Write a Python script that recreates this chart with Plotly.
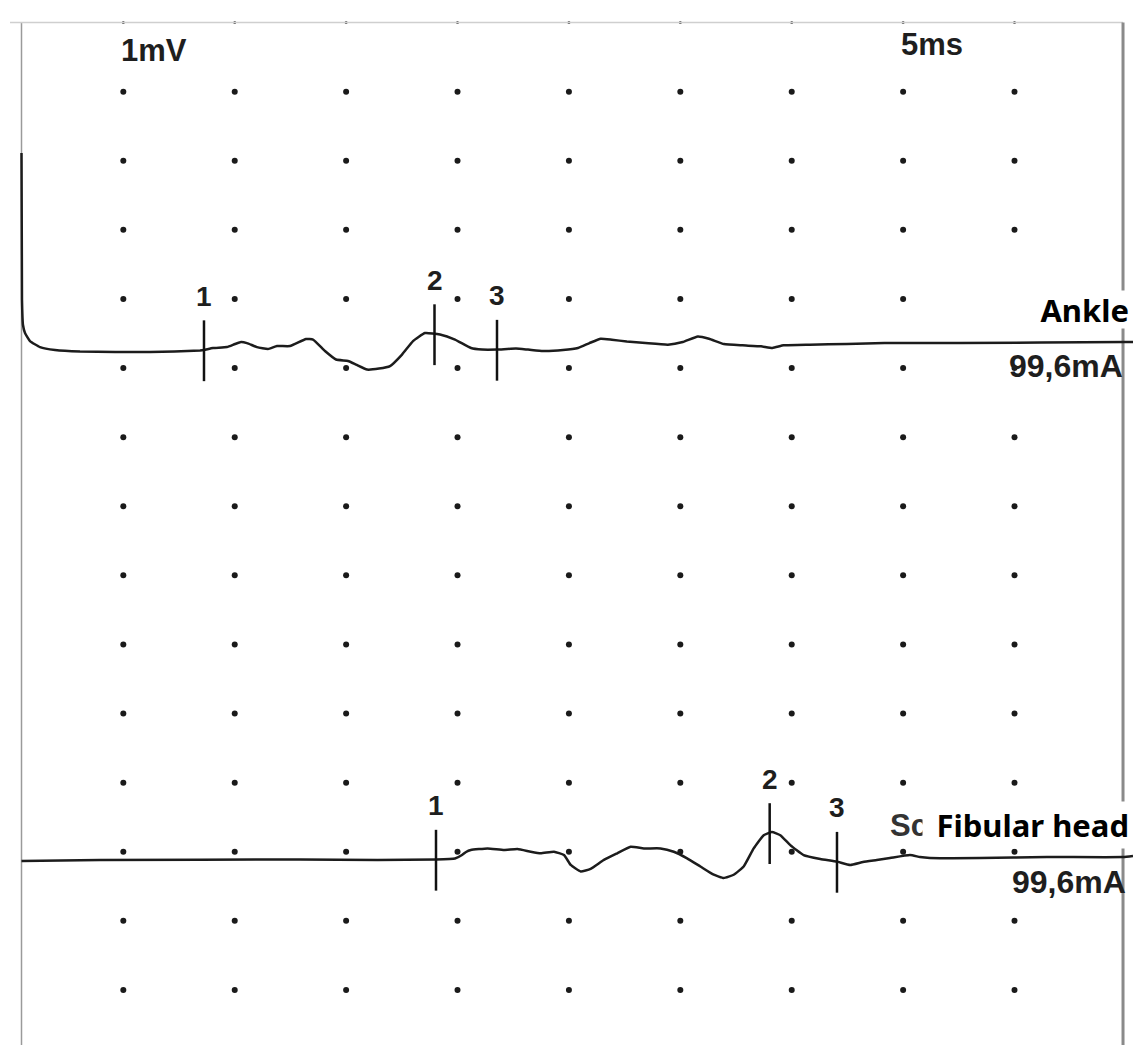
import numpy as np
import plotly.graph_objects as go

# ---- data (time in ms from stimulus, amplitude in mV relative to each trace baseline) ----
ANKLE_T = [0.0, 0.022, 0.067, 0.157, 0.382, 0.83, 1.504, 2.626, 5.767, 8.012, 8.191,
           8.595, 9.223, 9.582, 9.852, 10.121, 10.57, 11.064, 11.468, 12.051, 12.77,
           13.084, 13.622, 14.116, 14.655, 15.014, 15.508, 16.046, 16.54, 17.079,
           17.573, 18.111, 18.784, 19.457, 20.175, 20.669, 21.342, 22.195, 22.733,
           23.406, 24.304, 24.977, 25.493, 25.996, 26.499, 27.168, 28.007, 29.013,
           29.681, 30.355, 30.857, 31.526, 32.361, 33.2, 33.703, 34.206, 35.377,
           37.051, 38.73, 42.078, 49.529, 49.888]
ANKLE_MV = [2.851, 0.724, 0.362, 0.246, 0.13, 0.043, 0.0, -0.022, -0.029, -0.007, 0.0,
            0.029, 0.043, 0.087, 0.116, 0.101, 0.043, 0.014, 0.058, 0.058, 0.159,
            0.152, -0.014, -0.137, -0.159, -0.21, -0.282, -0.268, -0.232, -0.065,
            0.13, 0.246, 0.224, 0.152, 0.029, 0.007, 0.007, 0.022, 0.007,
            -0.014, 0.0, 0.03, 0.101, 0.164, 0.149, 0.124, 0.101, 0.078,
            0.116, 0.197, 0.164, 0.087, 0.068, 0.054, 0.03, 0.068, 0.078,
            0.087, 0.101, 0.101, 0.116, 0.116]

FIB_T = [0.0, 3.523, 12.5, 15.983, 18.604, 19.457, 19.771, 19.951, 20.166, 20.916,
         21.661, 22.258, 22.854, 23.303, 23.9, 24.349, 24.65, 25.099, 25.543, 26.14,
         26.737, 27.338, 27.935, 28.68, 29.277, 29.874, 30.471, 31.072, 31.517,
         31.966, 32.414, 32.863, 33.312, 33.684, 34.057, 34.506, 35.103, 35.853,
         36.602, 37.194, 37.769, 38.388, 38.981, 39.878, 40.327, 40.776, 43.02,
         46.027, 49.438, 49.888]
FIB_MV = [-0.022, -0.007, 0.0, -0.006, 0.0, 0.014, 0.065, 0.109, 0.137, 0.161,
          0.137, 0.152, 0.113, 0.09, 0.113, 0.065, -0.078, -0.172, -0.135, -0.006,
          0.09, 0.184, 0.161, 0.161, 0.113, 0.017, -0.101, -0.22, -0.268,
          -0.22, -0.101, 0.161, 0.352, 0.398, 0.352, 0.208, 0.065, 0.009,
          -0.03, -0.078, -0.036, -0.007, 0.022, 0.065, 0.036, 0.022, 0.022,
          0.036, 0.036, 0.051]

ANKLE_MARKS_T = [8.191, 18.537, 21.342]
FIB_MARKS_T = [18.604, 33.581, 36.602]
MARK_LABELS = ["1", "2", "3"]

GRID_COLS_MS = [4.57, 9.57, 14.57, 19.57, 24.57, 29.57, 34.57, 39.57, 44.57]
GRID_ROWS_MV = [0, 1, 2, 3, 4, 5, 6, 7, 8, 9, 10, 11, 12, 13]

GAIN_LABEL = "1mV"
SWEEP_LABEL = "5ms"
SITE_LABELS = ["Ankle", "Fibular head"]
STIM_LABELS = ["99,6mA", "99,6mA"]

# ---- layout constants ----
ANKLE_BASE = 9.26
FIB_BASE = 1.887
X_RANGE = [-0.965, 49.888]
Y_RANGE = [-0.797, 14.326]
FRAME_TOP = 14
FRAME_RIGHT = 49.44
TICK_UP, TICK_DOWN = 0.43, 0.45
LABEL_UP = 0.78

TRACE_COLOR = "#1c1c1c"
TXT_FONT = "Liberation Sans, Arial, sans-serif"
TXT_COLOR = "#1e1e1e"

fig = go.Figure()

# grid dots
gx, gy = np.meshgrid(GRID_COLS_MS, GRID_ROWS_MV)
fig.add_trace(go.Scatter(x=gx.ravel(), y=gy.ravel(), mode="markers",
                         marker=dict(size=6, color="#1a1a1a"), hoverinfo="skip",
                         showlegend=False))
# small dots on the top frame line
fig.add_trace(go.Scatter(x=GRID_COLS_MS, y=[FRAME_TOP] * len(GRID_COLS_MS), mode="markers",
                         marker=dict(size=3, color="#555"), hoverinfo="skip",
                         showlegend=False))

# frame lines
fig.add_trace(go.Scatter(x=[0, 0], y=[Y_RANGE[0], FRAME_TOP], mode="lines",
                         line=dict(color="#9a9a9a", width=1.5), hoverinfo="skip", showlegend=False))
fig.add_trace(go.Scatter(x=[X_RANGE[0] + 0.45, FRAME_RIGHT], y=[FRAME_TOP, FRAME_TOP], mode="lines",
                         line=dict(color="#cfcfcf", width=1.5), hoverinfo="skip", showlegend=False))
fig.add_trace(go.Scatter(x=[FRAME_RIGHT, FRAME_RIGHT], y=[Y_RANGE[0], FRAME_TOP], mode="lines",
                         line=dict(color="#8a8a8a", width=3), hoverinfo="skip", showlegend=False))

# traces
for t, mv, base in [(ANKLE_T, ANKLE_MV, ANKLE_BASE), (FIB_T, FIB_MV, FIB_BASE)]:
    fig.add_trace(go.Scatter(x=t, y=np.array(mv) + base, mode="lines",
                             line=dict(color=TRACE_COLOR, width=2.5, shape="spline", smoothing=0.4),
                             hoverinfo="skip", showlegend=False))

annotations = []
# cursor marks with labels
for t, mv, base, marks in [(ANKLE_T, ANKLE_MV, ANKLE_BASE, ANKLE_MARKS_T),
                           (FIB_T, FIB_MV, FIB_BASE, FIB_MARKS_T)]:
    for m, lab in zip(marks, MARK_LABELS):
        v = float(np.interp(m, t, mv)) + base
        fig.add_trace(go.Scatter(x=[m, m], y=[v + TICK_UP, v - TICK_DOWN], mode="lines",
                                 line=dict(color="#111", width=2.5), hoverinfo="skip",
                                 showlegend=False))
        annotations.append(dict(x=m, y=v + LABEL_UP, text="<b>" + lab + "</b>", showarrow=False,
                                xanchor="center", yanchor="middle",
                                font=dict(family=TXT_FONT, size=28, color=TXT_COLOR)))

annotations += [
    dict(x=5.95, y=13.60, text="<b>" + GAIN_LABEL + "</b>", showarrow=False,
         xanchor="center", yanchor="middle",
         font=dict(family=TXT_FONT, size=31, color=TXT_COLOR)),
    dict(x=40.87, y=13.675, text="<b>" + SWEEP_LABEL + "</b>", showarrow=False,
         xanchor="center", yanchor="middle",
         font=dict(family=TXT_FONT, size=31, color=TXT_COLOR)),
    dict(x=44.25, y=9.029, text="<b>" + STIM_LABELS[0] + "</b>", showarrow=False,
         xanchor="left", yanchor="middle",
         font=dict(family=TXT_FONT, size=32, color=TXT_COLOR)),
    dict(x=44.35, y=1.562, text="<b>" + STIM_LABELS[1] + "</b>", showarrow=False,
         xanchor="left", yanchor="middle",
         font=dict(family=TXT_FONT, size=32, color=TXT_COLOR)),
    dict(x=38.9, y=2.386, text="<b>Sc</b>", showarrow=False, xanchor="left", yanchor="middle",
         font=dict(family=TXT_FONT, size=31, color="#333")),
    dict(x=0.997, xref="paper", y=9.85, text="<b>" + SITE_LABELS[0] + "</b>", showarrow=False,
         xanchor="right", yanchor="middle", align="right", width=160, height=37,
         bgcolor="white", borderpad=0,
         font=dict(family="Noto Sans, Open Sans, sans-serif", size=31, color="black")),
    dict(x=0.997, xref="paper", y=2.386, text="<b>" + SITE_LABELS[1] + "</b>", showarrow=False,
         xanchor="right", yanchor="middle", align="right", width=206, height=46,
         bgcolor="white", borderpad=0,
         font=dict(family="Noto Sans, Open Sans, sans-serif", size=31, color="black")),
]

fig.update_layout(
    width=1133, height=1045,
    margin=dict(l=0, r=0, t=0, b=0),
    paper_bgcolor="white", plot_bgcolor="white",
    xaxis=dict(range=X_RANGE, visible=False, fixedrange=True),
    yaxis=dict(range=Y_RANGE, visible=False, fixedrange=True),
    annotations=annotations,
    showlegend=False,
)

fig.write_html("out.html", config={"displayModeBar": False},
               post_script="document.body.style.margin='0';")
